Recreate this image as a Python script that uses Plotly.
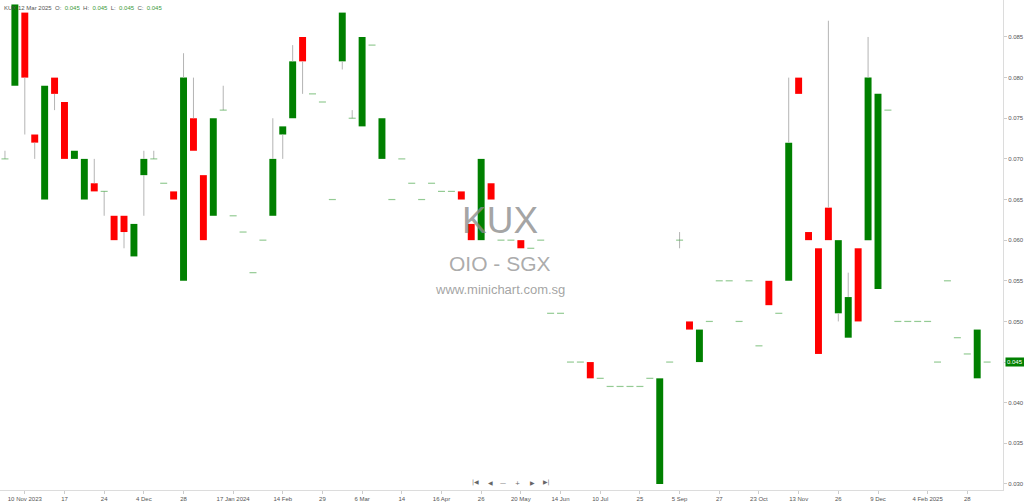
import plotly.graph_objects as go

# one candle per traded session, left to right
opens = [0.070, 0.079, 0.088, 0.073, 0.065, 0.080, 0.077, 0.070, 0.065, 0.067,
         0.066, 0.063, 0.063, 0.058, 0.068, 0.070, 0.067, 0.066, 0.055, 0.075,
         0.068, 0.063, 0.076, 0.063, 0.061, 0.056, 0.060, 0.063, 0.073, 0.075,
         0.085, 0.078, 0.077, 0.065, 0.082, 0.075, 0.074, 0.084, 0.070, 0.065,
         0.070, 0.067, 0.065, 0.067, 0.066, 0.066, 0.066, 0.062, 0.060, 0.067,
         0.060, 0.060, 0.060, 0.059, 0.060, 0.051, 0.051, 0.045, 0.045, 0.045,
         0.043, 0.042, 0.042, 0.042, 0.042, 0.043, 0.030, 0.045, 0.060, 0.050,
         0.045, 0.050, 0.055, 0.055, 0.050, 0.055, 0.047, 0.055, 0.051, 0.055,
         0.080, 0.061, 0.059, 0.064, 0.051, 0.048, 0.059, 0.060, 0.054, 0.076,
         0.050, 0.050, 0.050, 0.050, 0.045, 0.055, 0.048, 0.046, 0.043, 0.045]
highs = [0.071, 0.089, 0.088, 0.073, 0.079, 0.080, 0.077, 0.071, 0.070, 0.070,
         0.066, 0.063, 0.063, 0.062, 0.071, 0.071, 0.067, 0.066, 0.083, 0.080,
         0.068, 0.075, 0.079, 0.063, 0.061, 0.056, 0.060, 0.075, 0.074, 0.084,
         0.085, 0.078, 0.077, 0.065, 0.088, 0.076, 0.085, 0.084, 0.075, 0.065,
         0.070, 0.067, 0.065, 0.067, 0.066, 0.066, 0.066, 0.062, 0.070, 0.067,
         0.060, 0.060, 0.060, 0.059, 0.060, 0.051, 0.051, 0.045, 0.045, 0.045,
         0.043, 0.042, 0.042, 0.042, 0.042, 0.043, 0.043, 0.045, 0.061, 0.050,
         0.049, 0.050, 0.055, 0.055, 0.050, 0.055, 0.047, 0.055, 0.051, 0.080,
         0.080, 0.061, 0.059, 0.087, 0.060, 0.056, 0.059, 0.085, 0.078, 0.076,
         0.050, 0.050, 0.050, 0.050, 0.045, 0.055, 0.048, 0.046, 0.049, 0.045]
lows = [0.070, 0.079, 0.073, 0.070, 0.065, 0.076, 0.070, 0.070, 0.065, 0.066,
        0.063, 0.060, 0.059, 0.058, 0.063, 0.070, 0.067, 0.065, 0.055, 0.071,
        0.060, 0.063, 0.076, 0.063, 0.061, 0.056, 0.060, 0.063, 0.070, 0.075,
        0.078, 0.078, 0.077, 0.065, 0.081, 0.075, 0.074, 0.084, 0.070, 0.065,
        0.070, 0.067, 0.065, 0.067, 0.066, 0.066, 0.065, 0.060, 0.060, 0.065,
        0.060, 0.060, 0.059, 0.059, 0.060, 0.051, 0.051, 0.045, 0.045, 0.043,
        0.043, 0.042, 0.042, 0.042, 0.042, 0.043, 0.030, 0.045, 0.059, 0.049,
        0.045, 0.050, 0.055, 0.055, 0.050, 0.055, 0.047, 0.052, 0.051, 0.055,
        0.078, 0.060, 0.046, 0.060, 0.050, 0.048, 0.050, 0.060, 0.054, 0.076,
        0.050, 0.050, 0.050, 0.050, 0.045, 0.055, 0.048, 0.046, 0.043, 0.045]
closes = [0.070, 0.089, 0.080, 0.072, 0.079, 0.078, 0.070, 0.071, 0.070, 0.066,
          0.066, 0.060, 0.061, 0.062, 0.070, 0.070, 0.067, 0.065, 0.080, 0.071,
          0.060, 0.075, 0.076, 0.063, 0.061, 0.056, 0.060, 0.070, 0.074, 0.082,
          0.082, 0.078, 0.077, 0.065, 0.088, 0.075, 0.085, 0.084, 0.075, 0.065,
          0.070, 0.067, 0.065, 0.067, 0.066, 0.066, 0.065, 0.060, 0.070, 0.065,
          0.060, 0.060, 0.059, 0.059, 0.060, 0.051, 0.051, 0.045, 0.045, 0.043,
          0.043, 0.042, 0.042, 0.042, 0.042, 0.043, 0.043, 0.045, 0.060, 0.049,
          0.049, 0.050, 0.055, 0.055, 0.050, 0.055, 0.047, 0.052, 0.051, 0.072,
          0.078, 0.060, 0.046, 0.060, 0.060, 0.053, 0.050, 0.080, 0.078, 0.076,
          0.050, 0.050, 0.050, 0.050, 0.045, 0.055, 0.048, 0.046, 0.049, 0.045]

# x-axis labels sit under these candle positions
tick_pos = [2, 6, 10, 14, 18, 23, 28, 32, 36, 40, 44, 48,
            52, 56, 60, 64, 68, 72, 76, 80, 84, 88, 93, 97]
tick_labels = ["10 Nov 2023", "17", "24", "4 Dec", "28", "17 Jan 2024", "14 Feb",
               "29", "6 Mar", "14", "16 Apr", "26", "20 May", "14 Jun", "10 Jul",
               "25", "5 Sep", "27", "23 Oct", "13 Nov", "26", "9 Dec",
               "4 Feb 2025", "28"]

UP = "#008000"
DOWN = "#ff0000"
FLAT = "rgba(60,160,60,0.55)"
WICK = "#b4b4b4"
FONT = "Liberation Sans"

x = list(range(len(opens)))

# wicks: only the parts outside the body
wx, wy = [], []
for i, o, h, l, c in zip(x, opens, highs, lows, closes):
    top, bot = max(o, c), min(o, c)
    if h > top:
        wx += [i, i, None]
        wy += [top, h, None]
    if l < bot:
        wx += [i, i, None]
        wy += [l, bot, None]

body_base, body_len, body_col = [], [], []
flat_x, flat_y = [], []
for i, o, c in zip(x, opens, closes):
    if o == c:
        body_base.append(None)
        body_len.append(None)
        body_col.append(UP)
        flat_x.append(i)
        flat_y.append(c)
    else:
        body_base.append(min(o, c))
        body_len.append(abs(c - o))
        body_col.append(UP if c > o else DOWN)

fig = go.Figure()

fig.add_trace(go.Bar(
    x=x, y=body_len, base=body_base, width=0.7,
    marker=dict(color=body_col, line=dict(width=0)),
    hoverinfo="skip"
))

fig.add_trace(go.Scatter(
    x=wx, y=wy, mode="lines",
    line=dict(color=WICK, width=1),
    hoverinfo="skip"
))

fig.add_trace(go.Scatter(
    x=flat_x, y=flat_y, mode="markers",
    marker=dict(symbol="line-ew", size=5, line=dict(color=FLAT, width=1.2)),
    hoverinfo="skip"
))

plot_w = 1003
plot_h = 490

annotations = []

# watermark
for text, size, py, col in [("KUX", 37, 220, "rgba(140,140,140,0.8)"),
                            ("OIO - SGX", 21, 263, "rgba(150,150,150,0.8)"),
                            ("www.minichart.com.sg", 13, 289, "rgba(140,140,140,0.8)")]:
    annotations.append(dict(
        text=text, xref="paper", yref="paper",
        x=500 / plot_w, y=1 - py / plot_h,
        xanchor="center", yanchor="middle", showarrow=False,
        font=dict(family=FONT, size=size, color=col)
    ))

# header with last bar values
last = len(closes) - 1
val = "<span style='color:#3a9a3a'>%.3f</span>"
header = ("KUX&nbsp;12 Mar 2025&nbsp;&nbsp;O:&nbsp;&nbsp;" + val % opens[last] +
          "&nbsp;&nbsp;H:&nbsp;&nbsp;" + val % highs[last] +
          "&nbsp;&nbsp;L:&nbsp;&nbsp;" + val % lows[last] +
          "&nbsp;&nbsp;C:&nbsp;&nbsp;" + val % closes[last])
annotations.append(dict(
    text=header, xref="paper", yref="paper", x=0, y=1,
    xanchor="left", yanchor="top", xshift=2, yshift=-3, showarrow=False,
    font=dict(family=FONT, size=6, color="#555555")
))

# navigation buttons
for glyph, px in [("|◀", 475), ("◀", 490), ("—", 503), ("+", 517), ("▶", 532), ("▶|", 546)]:
    annotations.append(dict(
        text=glyph, xref="paper", yref="paper",
        x=px / plot_w, y=(plot_h - 482) / plot_h,
        xanchor="center", yanchor="middle", showarrow=False,
        font=dict(family="DejaVu Sans", size=6, color="#666666")
    ))

# last price tag
annotations.append(dict(
    text="%.3f" % closes[last], xref="paper", yref="y",
    x=1, y=closes[last], xanchor="left", yanchor="middle", xshift=2,
    showarrow=False, bgcolor=UP, borderpad=1,
    font=dict(family=FONT, size=6, color="white")
))

fig.update_layout(
    width=1024, height=502,
    margin=dict(l=0, r=21, t=0, b=12),
    paper_bgcolor="white", plot_bgcolor="white",
    showlegend=False,
    annotations=annotations,
    font=dict(family=FONT, size=6, color="#555555"),
    xaxis=dict(
        range=[-0.5, 100.6], tickvals=tick_pos, ticktext=tick_labels,
        showgrid=False, zeroline=False, showline=True, linecolor="#dcdcdc",
        ticks="outside", ticklen=3, tickcolor="#cccccc", automargin=False,
        tickfont=dict(family=FONT, size=6, color="#555555")
    ),
    yaxis=dict(
        side="right", range=[0.02926, 0.08955], tick0=0.030, dtick=0.005,
        tickformat=".3f", showgrid=False, zeroline=False, showline=True,
        linecolor="#dcdcdc", ticks="outside", ticklen=3, tickcolor="#cccccc",
        automargin=False, tickfont=dict(family=FONT, size=6, color="#555555")
    )
)

# the page body has a default 8px margin; drop it so the figure sits at 0,0
fig.write_html("out.html", config={"displayModeBar": False},
               post_script="document.body.style.margin='0px';")
